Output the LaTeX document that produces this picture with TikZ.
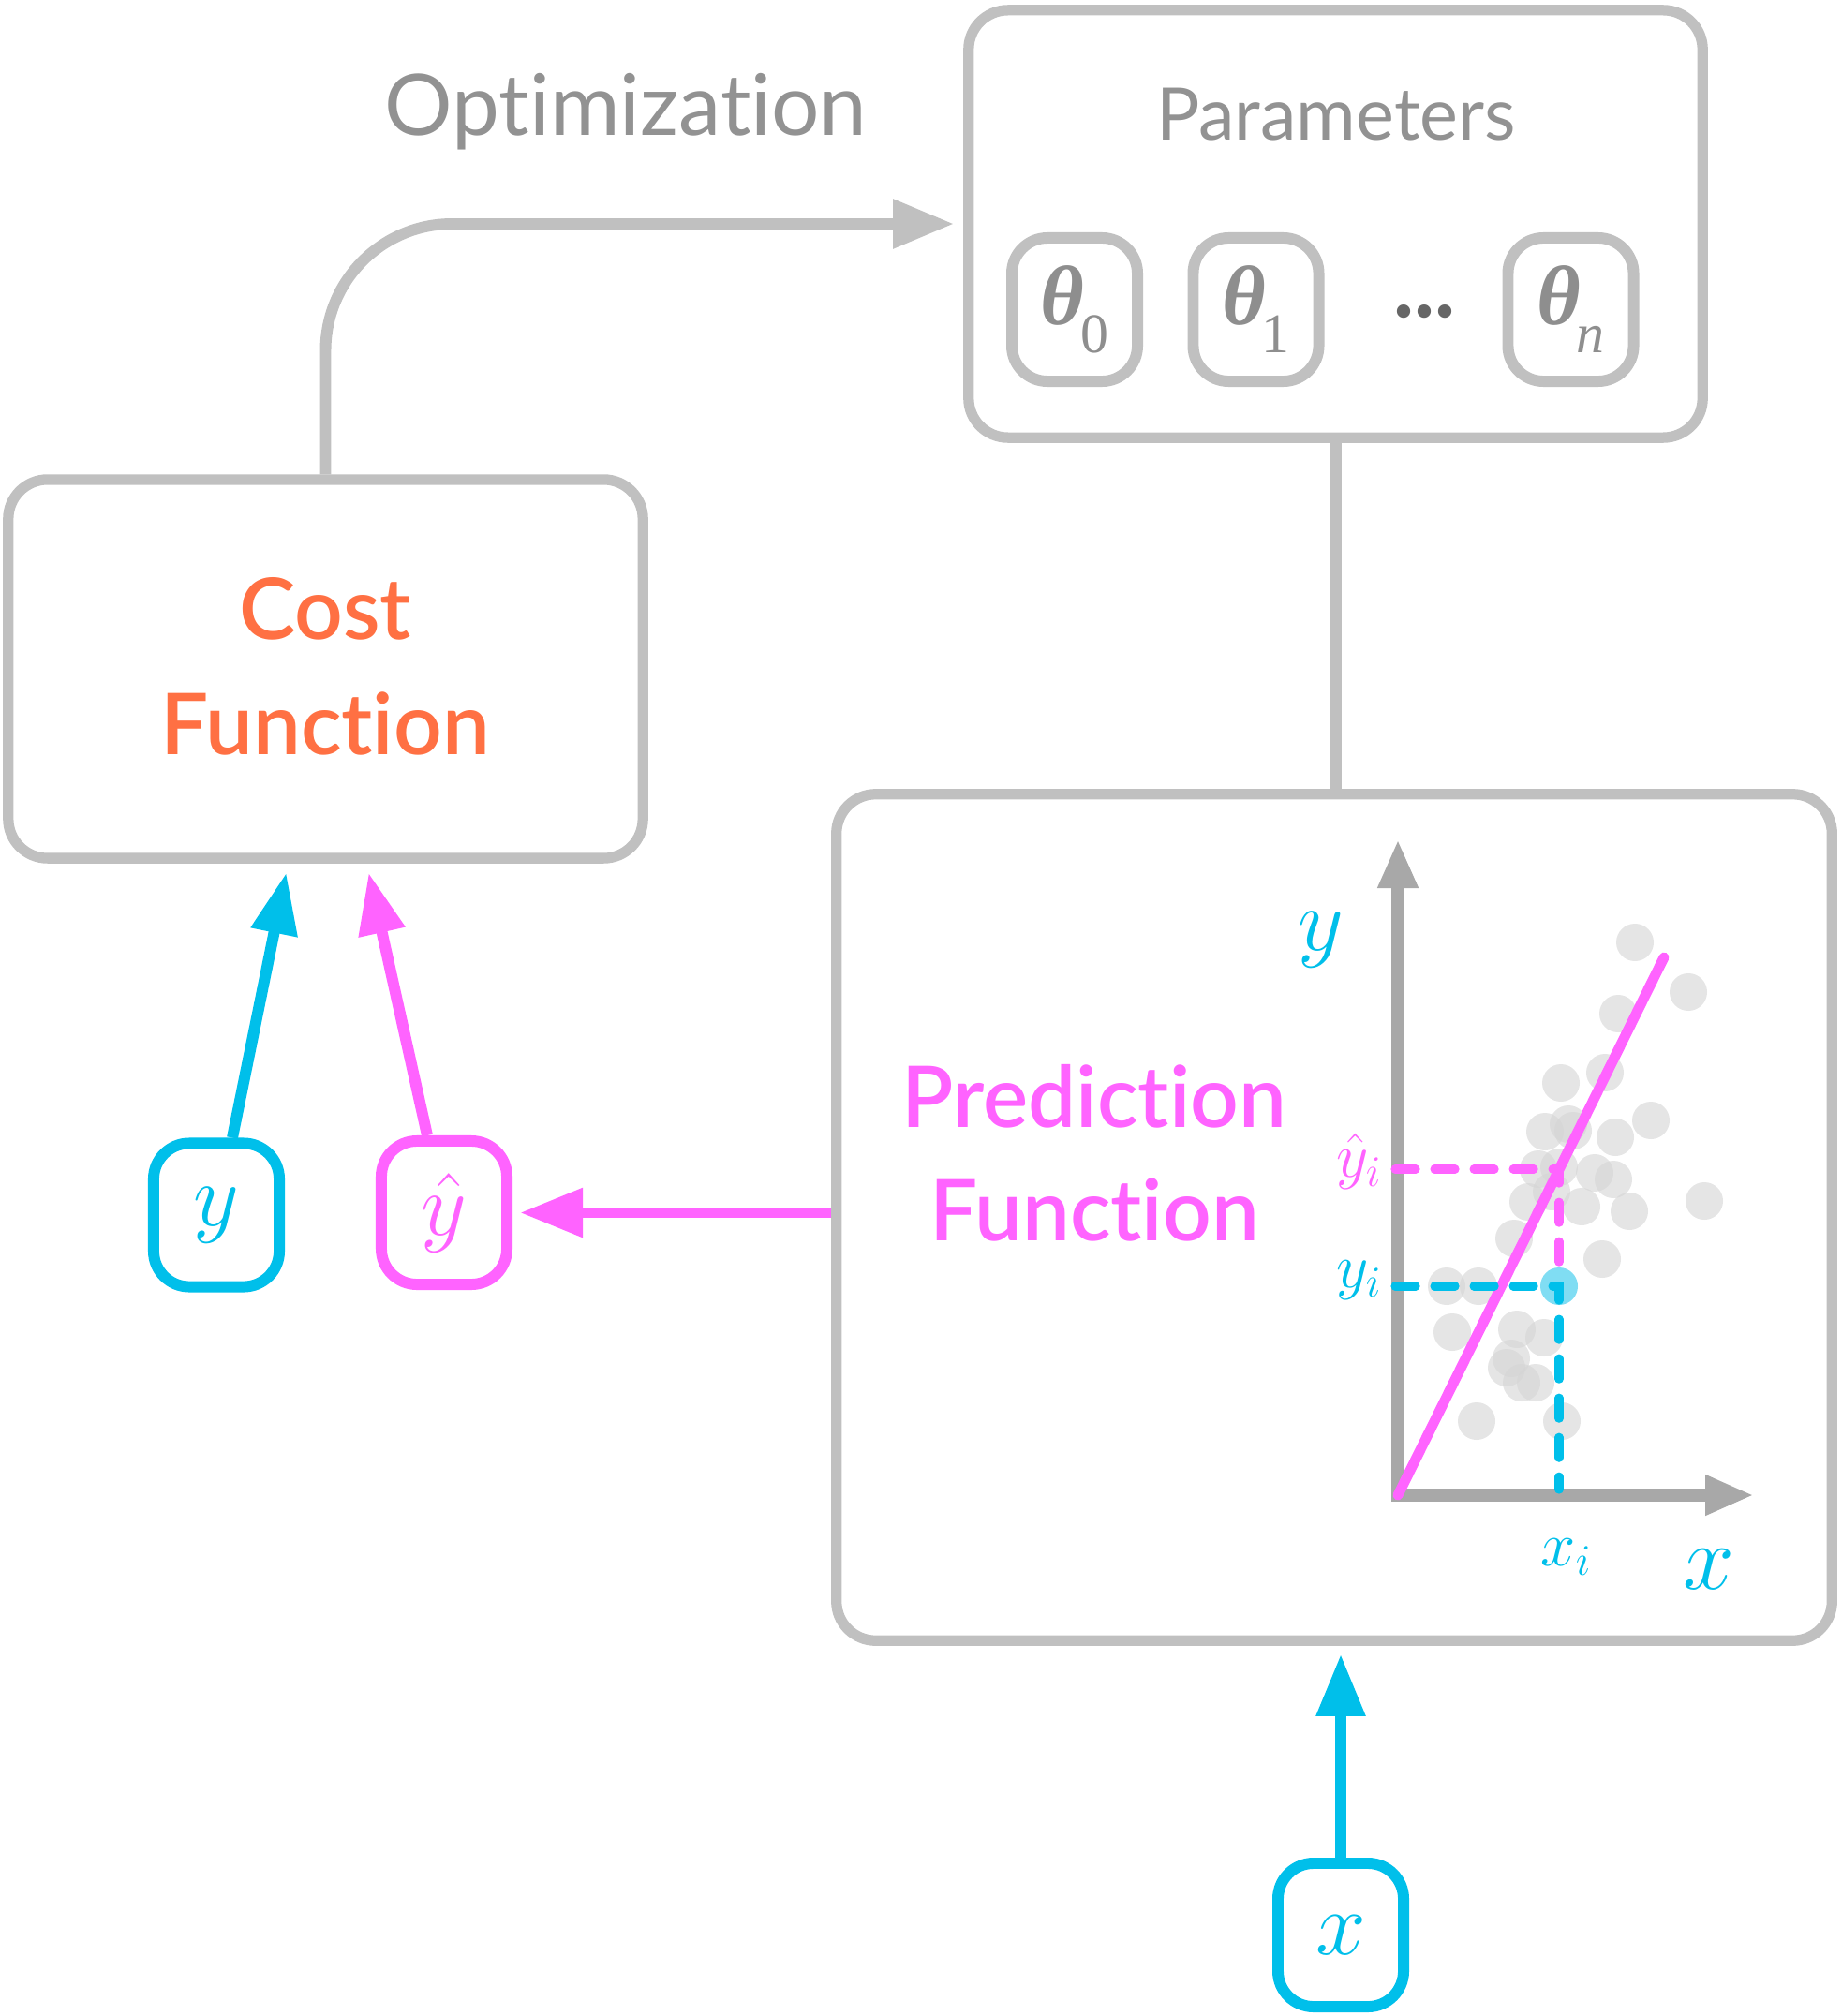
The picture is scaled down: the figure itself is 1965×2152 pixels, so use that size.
\RequirePackage{fix-cm}
\documentclass[tikz,border=0pt]{standalone}
\usepackage{fontspec}
\setmainfont{Lato}[Ligatures=NoCommon]
\IfFontExistsTF{Lato Semibold}{\newfontfamily\medfont{Lato Semibold}[Ligatures=NoCommon]}{\newfontfamily\medfont{Lato}[Ligatures=NoCommon,FakeBold=1.5]}
\newfontfamily\thetafont{Liberation Serif}
\usetikzlibrary{arrows.meta,calc}
\definecolor{boxgray}{HTML}{C0C0C0}
\definecolor{txtgray}{HTML}{929292}
\definecolor{axisgray}{HTML}{A8A8A8}
\definecolor{thgray}{HTML}{8E8E8E}
\definecolor{dotgray}{HTML}{666666}
\definecolor{scatgray}{HTML}{D4D4D4}
\definecolor{cyanc}{HTML}{00BFEA}
\definecolor{cyanlight}{HTML}{80DDF3}
\definecolor{magc}{HTML}{FF63FF}
\definecolor{orangec}{HTML}{FF7043}
\newcommand\thsym[1]{{\thetafont\bfseries\itshape\fontsize{25.6}{26}\selectfont θ}\kern-0.04cm\raisebox{-0.3cm}{\thetafont\fontsize{17}{17}\selectfont #1}}
\begin{document}
\begin{tikzpicture}[x=0.01cm,y=-0.01cm,
  bigbox/.style={draw=boxgray, line width=3.2pt, rounded corners=0.42cm, inner sep=0pt},
  smallbox/.style={line width=3.4pt, rounded corners=0.38cm, minimum width=1.34cm, minimum height=1.53cm, inner sep=0pt},
  graylabel/.style={text=txtgray, anchor=base, inner sep=0pt},
  colorlabel/.style={anchor=base, inner sep=0pt, font=\medfont\fontsize{25.8}{26}\selectfont},
  grayline/.style={draw=boxgray, line width=3.4pt},
  cyanline/.style={draw=cyanc, line width=3.4pt},
  magline/.style={draw=magc, line width=3.4pt},
  bigtip/.style={-{Triangle[length=0.65cm,width=0.5cm]}},
  axisline/.style={draw=axisgray, line width=4pt},
  dashline/.style={line width=2.6pt, line cap=round, dash pattern=on 0.22cm off 0.2cm},
  scat/.style={fill=scatgray, opacity=0.6},
  mathlabel/.style={inner sep=0pt}
]
\useasboundingbox (0,0) rectangle (1965,2152);

% main boxes
\node[bigbox, minimum width=7.83cm, minimum height=4.56cm] (params) at (1425.5,239) {};
\node[bigbox, minimum width=6.77cm, minimum height=4.04cm] (cost) at (347.5,714) {};
\node[bigbox, minimum width=10.62cm, minimum height=9.03cm] (pred) at (1424,1299.5) {};

% labels
\node[graylabel, font=\fontsize{22}{22}\selectfont] (paramlabel) at (1426,150) {Parameters};
\node[graylabel, font=\fontsize{25.8}{26}\selectfont] (optlabel) at (668,145) {Optimization};
\node[colorlabel, text=orangec] (costA) at (347,682) {Cost};
\node[colorlabel, text=orangec] (costB) at (347,805) {Function};
\node[colorlabel, text=magc] (predA) at (1168,1203) {Prediction};
\node[colorlabel, text=magc] (predB) at (1168,1324) {Function};

% parameter boxes
\node[smallbox, draw=boxgray, text=thgray] (th0) at (1147,330.5) {\thsym{0}};
\node[smallbox, draw=boxgray, text=thgray] (th1) at (1340.5,330.5) {\thsym{1}};
\node[smallbox, draw=boxgray, text=thgray] (thn) at (1676.5,330.5) {\thsym{\itshape n}};
\node[anchor=base, inner sep=0pt, text=dotgray, font=\thetafont\bfseries\fontsize{25}{25}\selectfont] (dots) at (1520,339) {...};

% input boxes
\node[smallbox, draw=cyanc, text=cyanc, font=\fontsize{27}{27}\selectfont] (ybox) at (231,1297) {$y$};
\node[smallbox, draw=magc, text=magc, font=\fontsize{27}{27}\selectfont] (yhat) at (474,1294.5) {$\hat{y}$};
\node[smallbox, draw=cyanc, text=cyanc, font=\fontsize{27.5}{27}\selectfont] (xbox) at (1431,2065.5) {$x$};

% connectors
\draw[grayline, bigtip, rounded corners=1.35cm, shorten >=0.1cm] (cost.north) |- (params.west);
\draw[grayline] (params.south) -- (params.south |- pred.north);
\draw[cyanline, -{Triangle[length=0.65cm,width=0.48cm]}] ($(ybox.north)+(17,0)$) -- ($(cost.south)+(-42,10)$);
\draw[magline, -{Triangle[length=0.65cm,width=0.48cm]}] ($(yhat.north)+(-18,0)$) -- ($(cost.south)+(46,10)$);
\draw[magline, -{Triangle[length=0.67cm,width=0.5cm]}] (yhat.east -| pred.west) -- ($(yhat.east)+(8,0)$);
\draw[cyanline, -{Triangle[length=0.66cm,width=0.5cm]}] (xbox.north) -- ($(xbox.north |- pred.south)+(0,9)$);

% plot
\coordinate (O) at (1492,1596);
\foreach \p in {(1745,1006),(1802,1059),(1727,1082),(1666,1156),(1713,1145),(1649,1208),(1674,1200),(1679,1207),(1724,1214),(1762,1196),(1642,1248),(1664,1246),(1702,1252),(1722,1259),(1631,1283),(1656,1272),(1688,1288),(1739,1293),(1819,1282),(1616,1322),(1710,1344),(1544,1373),(1578,1373),(1550,1422),(1619,1419),(1648,1428),(1613,1450),(1608,1460),(1624,1476),(1639,1476),(1576,1517),(1667,1517)}
  \fill[scat] \p circle (0.2cm);
\draw[axisline, {Triangle[length=0.52cm,width=0.4cm]}-{Triangle[length=0.52cm,width=0.4cm]}] (1492,896) -- (O) -- (1872,1596);
\fill[cyanlight] (1664,1373) circle (0.2cm);
\draw[magc, line width=3.1pt, line cap=round] (O) -- (1776,1022);
\draw[dashline, draw=magc] (1489,1248) -- (1664,1248) -- (1664,1360);
\draw[dashline, draw=cyanc] (1489,1373) -- (1664,1373) -- (1664,1590);

\node[mathlabel, text=cyanc, font=\fontsize{27}{27}\selectfont] (ylab) at (1410,1003) {$y$};
\node[mathlabel, text=cyanc, font=\fontsize{28}{28}\selectfont] (xlab) at (1824,1675) {$x$};
\node[mathlabel, text=cyanc, font=\fontsize{19}{19}\selectfont] (xilab) at (1672,1662) {$x_i$};
\node[mathlabel, text=magc, font=\fontsize{19}{19}\selectfont, anchor=east] (yhatilab) at (1476,1240) {$\hat{y}_i$};
\node[mathlabel, text=cyanc, font=\fontsize{19}{19}\selectfont, anchor=east] (yilab) at (1476,1367) {$y_i$};
\end{tikzpicture}
\end{document}
